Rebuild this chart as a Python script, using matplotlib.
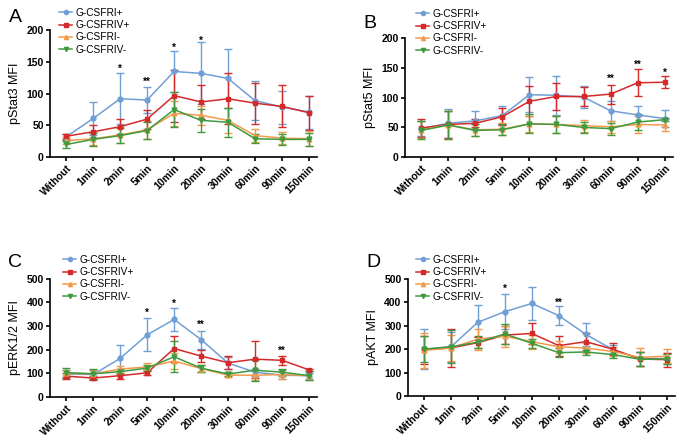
import numpy as np
import matplotlib
matplotlib.use("Agg")
import matplotlib.pyplot as plt
from matplotlib.lines import Line2D

plt.rcParams["font.family"] = ["Liberation Sans", "DejaVu Sans"]

times = ["Without", "1min", "2min", "5min", "10min", "20min", "30min", "60min", "90min", "150min"]
groups = ["G-CSFRI+", "G-CSFRIV+", "G-CSFRI-", "G-CSFRIV-"]
colors = ["#6f9fd6", "#d42a2a", "#f29a4a", "#3f9a3f"]
markers = ["o", "s", "^", "v"]

# pStat3
stat3_mean = [
    [32, 61, 92, 90, 135, 132, 124, 89, 79, 71],
    [33, 40, 48, 60, 97, 87, 92, 85, 80, 70],
    [26, 29, 35, 43, 69, 66, 58, 34, 30, 29],
    [20, 28, 34, 42, 75, 58, 55, 29, 28, 28],
]
stat3_err = [
    [5, 26, 40, 21, 32, 49, 46, 31, 26, 26],
    [4, 10, 12, 15, 41, 27, 40, 32, 33, 27],
    [6, 10, 12, 14, 20, 15, 20, 10, 9, 12],
    [5, 10, 12, 14, 27, 18, 23, 7, 9, 10],
]
stat3_stars = {2: ("*", 132), 3: ("**", 111), 4: ("*", 164), 5: ("*", 176)}

# pStat5
stat5_mean = [
    [48, 57, 61, 70, 105, 104, 101, 78, 71, 65],
    [49, 55, 57, 68, 94, 102, 102, 106, 125, 126],
    [46, 54, 46, 47, 56, 55, 53, 51, 55, 54],
    [45, 54, 45, 46, 56, 55, 50, 48, 59, 63],
]
stat5_err = [
    [13, 24, 16, 16, 29, 33, 18, 17, 15, 15],
    [15, 22, 7, 14, 25, 23, 16, 16, 23, 10],
    [14, 24, 10, 10, 14, 14, 10, 10, 15, 10],
    [15, 23, 10, 9, 16, 15, 9, 10, 13, 3],
]
stat5_stars = {7: ("**", 124), 8: ("**", 146), 9: ("*", 133)}

# pERK1/2
erk_mean = [
    [97, 95, 163, 263, 328, 243, 143, 105, 92, 90],
    [88, 80, 90, 102, 205, 173, 145, 160, 155, 115],
    [100, 98, 118, 127, 152, 120, 92, 92, 95, 90],
    [103, 98, 107, 122, 170, 122, 97, 113, 105, 90],
]
erk_err = [
    [15, 20, 55, 70, 50, 38, 25, 15, 15, 12],
    [12, 8, 12, 10, 55, 25, 27, 78, 20, 5],
    [15, 15, 15, 15, 35, 15, 8, 20, 18, 20],
    [18, 20, 12, 12, 65, 15, 8, 45, 15, 20],
]
erk_stars = {3: ("*", 335), 4: ("*", 373), 5: ("**", 282), 8: ("**", 176)}

# pAKT
akt_mean = [
    [200, 210, 315, 360, 395, 343, 263, 198, 160, 160],
    [198, 205, 228, 260, 267, 215, 232, 200, 158, 155],
    [195, 205, 243, 255, 232, 210, 205, 190, 165, 170],
    [200, 210, 230, 265, 225, 185, 188, 177, 157, 158],
]
akt_err = [
    [85, 65, 75, 75, 72, 40, 48, 20, 30, 25],
    [60, 80, 25, 40, 45, 43, 35, 25, 30, 30],
    [75, 55, 45, 45, 30, 25, 20, 20, 38, 30],
    [55, 70, 25, 43, 20, 18, 15, 15, 30, 22],
]
akt_stars = {3: ("*", 436), 5: ("**", 378)}


def draw_panel(ax, means, errs, stars, ylabel, ymax, ystep, letter, leg_xy, letter_y):
    x = np.arange(len(times))
    for i in range(len(groups)):
        ax.errorbar(x, means[i], yerr=errs[i], color=colors[i], marker=markers[i],
                    markersize=3.5, linewidth=1.1, elinewidth=1.0, capsize=3,
                    capthick=1.0)
    for k, (s, yv) in stars.items():
        ax.text(k, yv, s, ha="center", va="bottom", fontsize=7, fontweight="bold")
    ax.set_xlim(-0.6, 9.3)
    ax.set_ylim(0, ymax)
    ax.set_yticks(np.arange(0, ymax + 1, ystep))
    ax.set_xticks(x)
    ax.set_xticklabels(times, rotation=45, ha="right", rotation_mode="anchor",
                       fontsize=7.5, fontweight="bold")
    for lab in ax.get_yticklabels():
        lab.set_fontweight("bold")
        lab.set_fontsize(7.5)
    ax.spines["top"].set_visible(False)
    ax.spines["right"].set_visible(False)
    ax.spines["left"].set_linewidth(1.2)
    ax.spines["bottom"].set_linewidth(1.2)
    ax.tick_params(width=1.2, length=3, pad=1.5)
    ax.set_ylabel(ylabel, fontsize=9)
    handles = [Line2D([], [], color=colors[i], marker=markers[i], markersize=3,
                      linewidth=1.1) for i in range(len(groups))]
    ax.legend(handles, groups, loc="upper left",
              bbox_to_anchor=(leg_xy[0] / 690, 1 - leg_xy[1] / 444),
              bbox_transform=ax.figure.transFigure, frameon=False,
              fontsize=7.3, handlelength=1.3, handletextpad=0.35,
              labelspacing=0.22, borderpad=0, borderaxespad=0)
    ax.text(-0.13, letter_y, letter, transform=ax.transAxes, fontsize=14,
            ha="center", va="center")


fig = plt.figure(figsize=(6.9, 4.44), dpi=100)
axA = fig.add_axes([0.0725, 0.646, 0.387, 0.286])
axB = fig.add_axes([0.587, 0.646, 0.388, 0.268])
axC = fig.add_axes([0.0725, 0.106, 0.387, 0.266])
axD = fig.add_axes([0.591, 0.108, 0.387, 0.264])

draw_panel(axA, stat3_mean, stat3_err, stat3_stars, "pStat3 MFI", 200, 50, "A", (59, 8), 1.10)
draw_panel(axB, stat5_mean, stat5_err, stat5_stars, "pStat5 MFI", 200, 50, "B", (416, 9), 1.12)
draw_panel(axC, erk_mean, erk_err, erk_stars, "pERK1/2 MFI", 500, 100, "C", (63, 255), 1.14)
draw_panel(axD, akt_mean, akt_err, akt_stars, "pAKT MFI", 500, 100, "D", (416, 255), 1.14)

fig.savefig("out.png", dpi=100)
